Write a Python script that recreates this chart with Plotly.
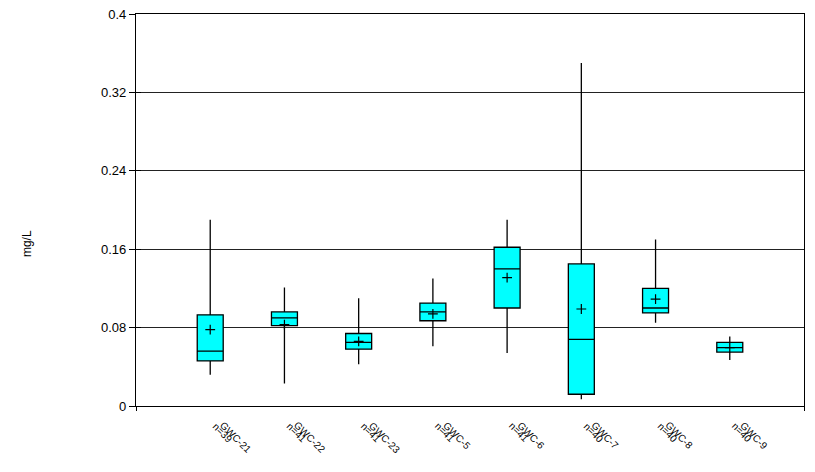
import plotly.graph_objects as go

wells = ["GWC-21", "GWC-22", "GWC-23", "GWC-5", "GWC-6", "GWC-7", "GWC-8", "GWC-9"]
counts = ["n=39", "n=41", "n=41", "n=41", "n=41", "n=40", "n=40", "n=40"]
upper = [0.190, 0.121, 0.110, 0.130, 0.190, 0.350, 0.170, 0.071]
q3 = [0.093, 0.096, 0.074, 0.105, 0.162, 0.145, 0.120, 0.065]
median = [0.056, 0.090, 0.065, 0.096, 0.140, 0.068, 0.100, 0.0595]
q1 = [0.046, 0.082, 0.058, 0.087, 0.100, 0.012, 0.095, 0.055]
lower = [0.032, 0.023, 0.0425, 0.061, 0.054, 0.007, 0.085, 0.047]
mean = [0.078, 0.083, 0.066, 0.094, 0.131, 0.099, 0.109, 0.0595]
yticks = [0, 0.08, 0.16, 0.24, 0.32, 0.4]
ytick_text = ["0", "0.08", "0.16", "0.24", "0.32", "0.4"]

pos = list(range(1, len(wells) + 1))

fig = go.Figure()
fig.add_trace(go.Box(
    x=pos, q1=q1, median=median, q3=q3, lowerfence=lower, upperfence=upper,
    width=0.35, whiskerwidth=0, fillcolor="#00FFFF",
    line=dict(color="black", width=1.3), showlegend=False, hoverinfo="skip",
))
fig.add_trace(go.Scatter(
    x=pos, y=mean, mode="markers",
    marker=dict(symbol="cross-thin", size=7, line=dict(color="black", width=1.2)),
    showlegend=False,
))
fig.add_trace(go.Scatter(x=[0], y=[0], yaxis="y2", mode="markers",
                         marker=dict(opacity=0), showlegend=False, hoverinfo="skip"))

font = "Liberation Sans, Arial, sans-serif"
for p, w, n in zip(pos, wells, counts):
    fig.add_annotation(x=p, xref="x", y=0, yref="paper", text=w, showarrow=False,
                       textangle=45, xanchor="left", yanchor="top",
                       xshift=5, yshift=-11, font=dict(size=10, color="black", family=font))
    fig.add_annotation(x=p, xref="x", y=0, yref="paper", text=n, showarrow=False,
                       textangle=45, xanchor="left", yanchor="top",
                       xshift=-3, yshift=-12, font=dict(size=10, color="black", family=font))

fig.add_annotation(x=0, xref="paper", y=0.413, yref="paper", text="mg/L", showarrow=False,
                   textangle=-90, xanchor="center", yanchor="middle", xshift=-109,
                   font=dict(size=12, color="black", family=font))

fig.update_layout(
    width=815, height=472,
    margin=dict(l=136, r=11, t=14, b=66, autoexpand=False),
    plot_bgcolor="white", paper_bgcolor="white",
    font=dict(family=font, color="black"),
    xaxis=dict(range=[0, 9], tickvals=[0, 9], showticklabels=False, ticks="outside",
               ticklen=4, tickcolor="black", showgrid=False, zeroline=False,
               showline=True, linecolor="black", linewidth=1.2, mirror=True),
    yaxis=dict(range=[0, 0.4], tickvals=yticks, ticktext=ytick_text, ticks="outside",
               ticklen=6, tickcolor="black", showgrid=True, gridcolor="#222222",
               gridwidth=1, zeroline=False, showline=True, linecolor="black",
               linewidth=1.2, mirror=True, tickfont=dict(size=13)),
    yaxis2=dict(range=[0, 0.4], tickvals=yticks, ticks="inside", ticklen=5,
                tickcolor="black", showticklabels=False, showgrid=False,
                zeroline=False, overlaying="y", side="left", showline=False),
)

fig.write_html("out.html", config={"displayModeBar": False},
               post_script="document.body.style.margin='0';")
